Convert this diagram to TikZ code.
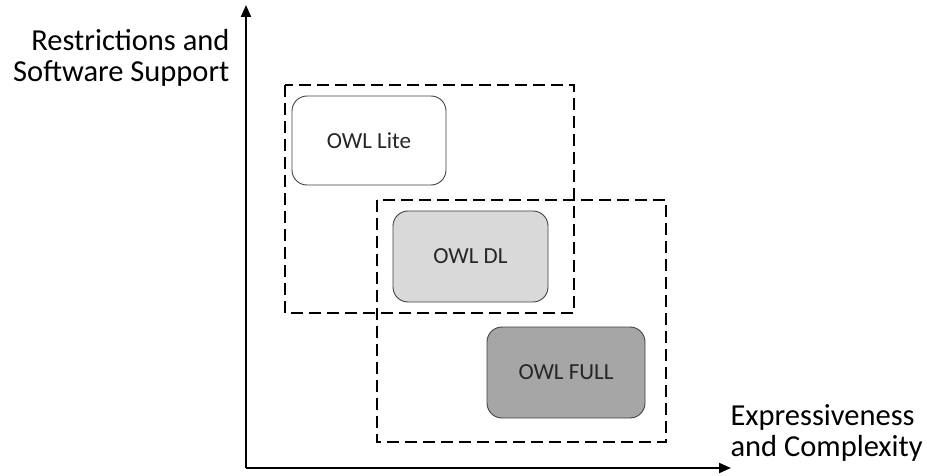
\documentclass[tikz,border=0pt]{standalone}
\usepackage{fontspec}
\setmainfont{Carlito}
\usetikzlibrary{arrows.meta}

\begin{document}
\begin{tikzpicture}[x=1pt,y=-1pt,
    owlbox/.style={draw=black!75, line width=0.9pt, rounded corners=15pt, minimum width=155pt,
      minimum height=90pt, text=black!85, font=\fontsize{23}{27}\selectfont},
    scopebox/.style={line width=1.8pt, dash pattern=on 12pt off 6pt},
    axis/.style={line width=2pt, -{Triangle[length=12pt,width=10pt]}},
    axislabel/.style={font=\fontsize{30.5}{31}\selectfont}]
    \useasboundingbox (0,0) rectangle (927,476);

    % Axes
    \coordinate (origin) at (246,468);
    \coordinate (ytip) at (246,5);
    \coordinate (xtip) at (731,468);
    \draw[axis] (origin) -- (ytip);
    \draw[axis] (origin) -- (xtip);

    % Axis labels
    \node[axislabel, anchor=east, align=right] (ylabel) at (233,58) {Restrictions and\\Software Support};
    \node[axislabel, anchor=west, align=left] (xlabel) at (727,433) {Expressiveness\\and Complexity};

    % Dashed regions
    \draw[scopebox] (285,85) rectangle (574,313);
    \draw[scopebox] (377,200) rectangle (666,442);

    % OWL sublanguages
    \node[owlbox, fill=white, minimum width=154pt, minimum height=89pt] (lite) at (369,140.5) {OWL Lite};
    \node[owlbox, fill=black!15, minimum height=91pt] (dl) at (470.5,256.5) {OWL DL};
    \node[owlbox, fill=black!35, minimum width=158pt, minimum height=91pt] (full) at (566,372.5) {OWL FULL};
\end{tikzpicture}
\end{document}
